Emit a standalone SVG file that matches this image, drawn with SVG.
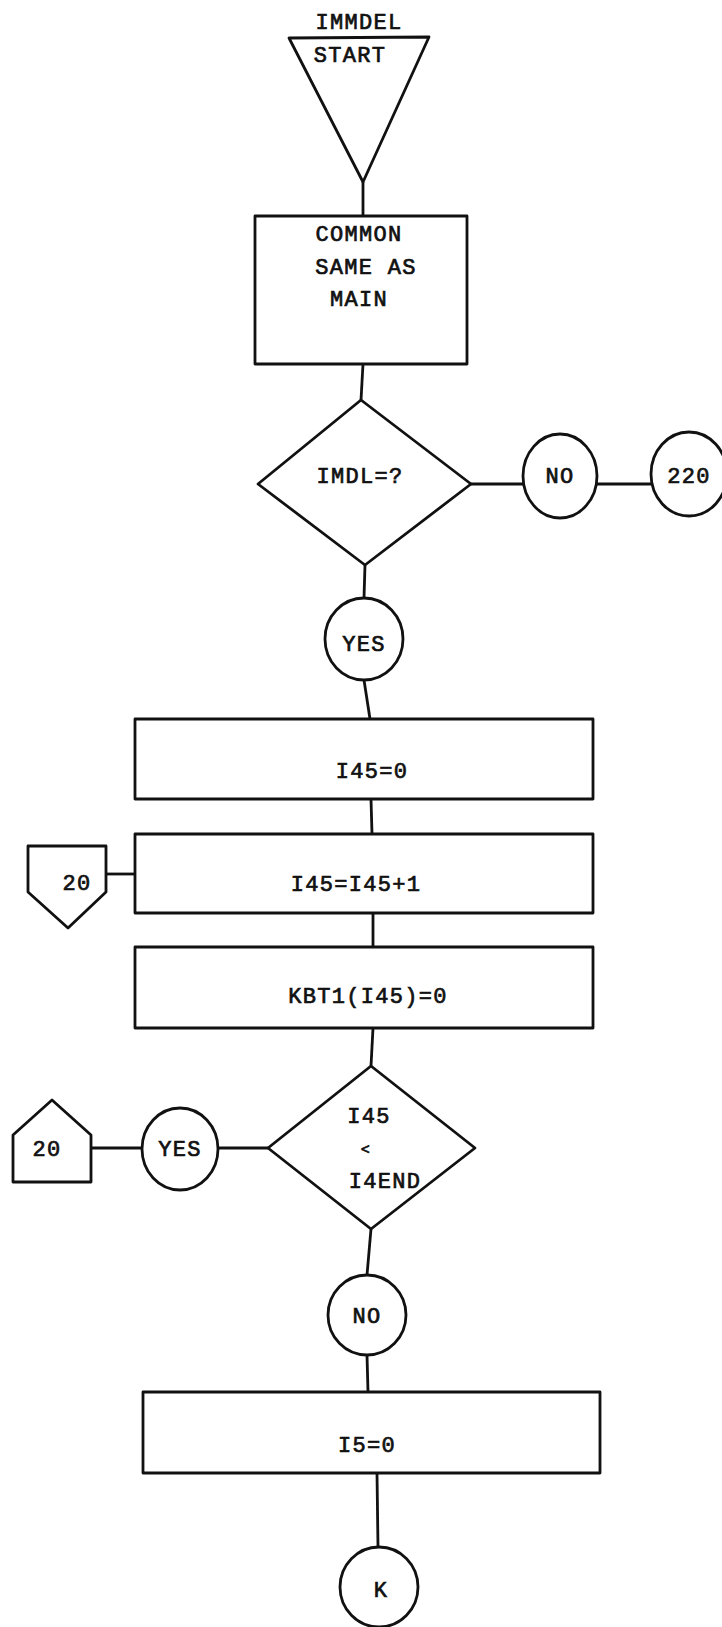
<svg xmlns="http://www.w3.org/2000/svg" width="722" height="1627" viewBox="0 0 722 1627">
<style>
.s{fill:#fff;stroke:#111;stroke-width:2.8;stroke-linejoin:round}
.c{fill:none;stroke:#111;stroke-width:2.8}
.t{font-family:"Liberation Mono","DejaVu Sans Mono",monospace;font-size:22px;letter-spacing:1.3px;fill:#111;stroke:#111;stroke-width:0.7;text-anchor:middle}
</style>
<rect width="722" height="1627" fill="#fff"/>
<g id="connectors">
<line class="c" x1="363" y1="182" x2="363" y2="216"/>
<line class="c" x1="363" y1="364" x2="361" y2="400"/>
<line class="c" x1="471" y1="484" x2="523" y2="484"/>
<line class="c" x1="597" y1="484" x2="651" y2="484"/>
<line class="c" x1="365" y1="565" x2="364" y2="598"/>
<line class="c" x1="364" y1="680" x2="370" y2="719"/>
<line class="c" x1="371" y1="799" x2="372" y2="834"/>
<line class="c" x1="106" y1="874" x2="135" y2="874"/>
<line class="c" x1="373" y1="913" x2="373" y2="947"/>
<line class="c" x1="373" y1="1028" x2="371" y2="1066"/>
<line class="c" x1="268" y1="1148" x2="218" y2="1148"/>
<line class="c" x1="142" y1="1148" x2="91" y2="1148"/>
<line class="c" x1="371" y1="1229" x2="367" y2="1275"/>
<line class="c" x1="367" y1="1355" x2="368" y2="1392"/>
<line class="c" x1="377" y1="1473" x2="378" y2="1547"/>
</g>
<g id="start">
<polygon class="s" points="289,38 429,37 363,182"/>
<text class="t" x="359" y="29">IMMDEL</text>
<text class="t" x="350" y="62">START</text>
</g>
<g id="common">
<rect class="s" x="255" y="216" width="212" height="148"/>
<text class="t" x="359" y="241">COMMON</text>
<text class="t" x="366" y="274">SAME AS</text>
<text class="t" x="359" y="306">MAIN</text>
</g>
<g id="dec1">
<polygon class="s" points="361,400 471,484 365,565 258,484"/>
<text class="t" x="360" y="483">IMDL=?</text>
</g>
<g id="no1">
<ellipse class="s" cx="560" cy="476" rx="37" ry="42"/>
<text class="t" x="560" y="483">NO</text>
</g>
<g id="c220">
<ellipse class="s" cx="689" cy="474" rx="38" ry="42"/>
<text class="t" x="689" y="483">220</text>
</g>
<g id="yes1">
<ellipse class="s" cx="364" cy="639" rx="39" ry="41"/>
<text class="t" x="364" y="651">YES</text>
</g>
<g id="r1">
<rect class="s" x="135" y="719" width="458" height="80"/>
<text class="t" x="372" y="778">I45=0</text>
</g>
<g id="off20a">
<polygon class="s" points="28,846 106,846 106,892 68,928 28,892"/>
<text class="t" x="77" y="890">20</text>
</g>
<g id="r2">
<rect class="s" x="135" y="834" width="458" height="79"/>
<text class="t" x="356" y="891">I45=I45+1</text>
</g>
<g id="r3">
<rect class="s" x="135" y="947" width="458" height="81"/>
<text class="t" x="368" y="1003">KBT1(I45)=0</text>
</g>
<g id="dec2">
<polygon class="s" points="371,1066 475,1148 371,1229 268,1148"/>
<text class="t" x="369" y="1123">I45</text>
<text class="t" x="366" y="1154" style="font-size:15px">&lt;</text>
<text class="t" x="385" y="1188">I4END</text>
</g>
<g id="yes2">
<ellipse class="s" cx="180" cy="1149" rx="38" ry="41"/>
<text class="t" x="180" y="1156">YES</text>
</g>
<g id="off20b">
<polygon class="s" points="13,1135 52,1100 91,1135 91,1182 13,1182"/>
<text class="t" x="47" y="1156">20</text>
</g>
<g id="no2">
<ellipse class="s" cx="367" cy="1315" rx="39" ry="40"/>
<text class="t" x="367" y="1323">NO</text>
</g>
<g id="r4">
<rect class="s" x="143" y="1392" width="457" height="81"/>
<text class="t" x="367" y="1452">I5=0</text>
</g>
<g id="k">
<ellipse class="s" cx="379" cy="1587" rx="39" ry="40"/>
<text class="t" x="381" y="1597">K</text>
</g>
</svg>
